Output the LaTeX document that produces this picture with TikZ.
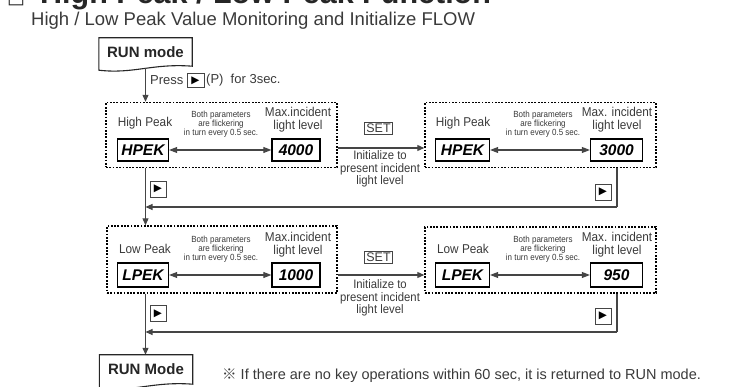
\documentclass[tikz,border=0pt]{standalone}
\usepackage{fontspec}
\setmainfont{Liberation Sans}
\newfontfamily\cjk{Noto Sans CJK KR}
\newfontfamily\symf{DejaVu Sans}
\newfontfamily\tinyf[FakeStretch=0.9]{Liberation Sans}
\newfontfamily\narrowf[FakeStretch=0.92]{Liberation Sans}
\usetikzlibrary{arrows.meta,calc}
\definecolor{txt}{HTML}{3A3A3A}
\definecolor{ln}{HTML}{454545}
\tikzset{
  lbl/.style={inner sep=0pt, text=txt, align=center, font=\narrowf\fontsize{12.8}{13}\selectfont},
  tinytxt/.style={inner sep=0pt, text=txt, align=center, font=\tinyf\fontsize{8.9}{6.3}\selectfont},
  disp/.style={draw=black, line width=1.3pt, inner sep=0pt, minimum width=51pt, minimum height=22pt,
    font=\bfseries\itshape\fontsize{15.5}{16}\selectfont},
  dotbox/.style={draw=black, line width=1.4pt, dash pattern=on 1.8pt off 1.5pt, inner sep=0pt},
  keybox/.style={draw=ln, line width=0.9pt, inner sep=0pt, minimum width=16pt, minimum height=16pt,
    font=\symf\fontsize{10.5}{10.5}\selectfont},
  setbox/.style={draw=ln, line width=0.8pt, inner sep=1.5pt, text=txt, font=\fontsize{12.5}{13}\selectfont},
  runbox/.style={inner sep=0pt, minimum width=93pt, font=\bfseries\fontsize{15}{15}\selectfont, text=black!85},
  runshape/.style={draw=black!85, line width=1.1pt, fill=white},
  arr/.style={draw=ln, line width=1.05pt, -{Triangle[length=7pt,width=6pt]}},
  plain/.style={draw=ln, line width=1.05pt},
  dbl/.style={draw=ln, line width=1.05pt, {Triangle[length=8pt,width=6pt]}-{Triangle[length=8pt,width=6pt]}},
}
\begin{document}
\begin{tikzpicture}[x=1pt,y=-1pt]
\useasboundingbox (0,0) rectangle (742,387);
\clip (0,0) rectangle (742,387);

% title and subtitle
\node[anchor=base west, inner sep=0pt, font=\symf\fontsize{19}{19}\selectfont, text=black!85] (tsq) at (7,4) {□};
\node[anchor=base west, inner sep=0pt, font=\bfseries\fontsize{30.5}{31}\selectfont, text=black!85] (title) at (40,4) {High Peak / Low Peak Function};
\node[anchor=base west, inner sep=0pt, text=txt, font=\fontsize{18.5}{18.5}\selectfont] (sub) at (31,26) {High / Low Peak Value Monitoring and Initialize FLOW};

% top RUN mode
\node[runbox, minimum height=32pt] (run1) at (145.5,54) {};
\path[runshape] (run1.north west) -- (run1.north east) -- ($(run1.south east)+(0,-4)$)
  .. controls ($(run1.south east)+(-40,-7)$) and ($(run1.south west)+(35,4)$) .. (run1.south west) -- cycle;
\node[runbox] (run1t) at (145.5,52) {RUN mode};

% Press label
\node[lbl, anchor=west, font=\fontsize{13}{13}\selectfont] (press) at (150,80) {Press};
\node[keybox, minimum width=17pt, minimum height=14pt] (pkey) at (195.5,80.5) {▶};
\node[lbl, anchor=west, font=\fontsize{13}{13}\selectfont] (pfor) at (206,80) {(P)\ \ for 3sec.};

% dotted boxes
\node[dotbox, minimum width=231pt, minimum height=65pt] (b1) at (221.5,135) {};
\node[dotbox, minimum width=231pt, minimum height=65pt] (b2) at (540.5,135) {};
\node[dotbox, minimum width=230pt, minimum height=67pt] (b3) at (222,259.5) {};
\node[dotbox, minimum width=231pt, minimum height=66pt] (b4) at (540.5,260) {};

% ---- box 1
\node[lbl] (hp1) at (145,123) {High Peak};
\node[disp] (d1) at (143,150) {HPEK};
\node[disp, minimum width=48pt] (v1) at (296,150) {4000};
\node[tinytxt] (t1) at (221,124) {Both parameters\\are flickering\\in turn every 0.5 sec.};
\node[lbl] (m1) at (298,119.5) {Max.incident\\light level};
\draw[dbl] (d1) -- (v1);
% ---- box 2
\node[lbl] (hp2) at (463,123) {High Peak};
\node[disp, minimum width=54pt] (d2) at (462.5,150) {HPEK};
\node[disp, minimum width=52pt] (v2) at (616.5,150) {3000};
\node[tinytxt] (t2) at (543,124) {Both parameters\\are flickering\\in turn every 0.5 sec.};
\node[lbl] (m2) at (617,119.5) {Max. incident\\light level};
\draw[dbl] (d2) -- (v2);
% ---- box 3
\node[lbl] (lp3) at (145,249) {Low Peak};
\node[disp, minimum height=24pt] (d3) at (143,275) {LPEK};
\node[disp, minimum width=48pt, minimum height=24pt] (v3) at (296,275) {1000};
\node[tinytxt] (t3) at (221,249) {Both parameters\\are flickering\\in turn every 0.5 sec.};
\node[lbl] (m3) at (298,245) {Max.incident\\light level};
\draw[dbl] (d3) -- (v3);
% ---- box 4
\node[lbl] (lp4) at (463,249) {Low Peak};
\node[disp, minimum width=54pt, minimum height=24pt] (d4) at (462.5,275) {LPEK};
\node[disp, minimum width=52pt, minimum height=24pt] (v4) at (616.5,275) {950};
\node[tinytxt] (t4) at (543,249) {Both parameters\\are flickering\\in turn every 0.5 sec.};
\node[lbl] (m4) at (617,245) {Max. incident\\light level};
\draw[dbl] (d4) -- (v4);

% SET transitions
\node[setbox] (s1) at (378.5,128) {SET};
\node[lbl, font=\narrowf\fontsize{12.3}{12.8}\selectfont] (i1) at (380,169) {Initialize to\\present incident\\light level};
\draw[arr] ($(b1.east)+(0,13)$) -- ($(b2.west)+(0,13)$);
\node[setbox] (s2) at (378.5,257) {SET};
\node[lbl, font=\narrowf\fontsize{12.3}{12.8}\selectfont] (i2) at (380,298) {Initialize to\\present incident\\light level};
\draw[arr] ($(b3.east)+(0,15.5)$) -- ($(b4.west)+(0,15)$);

% vertical flow
\draw[arr] ($(run1.south)+(0,-2)$) -- (b1.north -| run1);
\draw[arr] (b1.south -| run1) -- (b3.north -| run1);
\node[keybox] (k1) at (158,189) {▶};
\coordinate (r1) at (617,207);
\draw[plain] (b2.south -| r1) -- (r1);
\draw[arr] (r1) -- (r1 -| run1);
\node[keybox] (k2) at (603,192) {▶};

% bottom RUN Mode
\node[runbox, minimum height=33pt] (run2) at (146,371.5) {};
\draw[arr] (b3.south -| run1) -- (run2.north -| run1);
\node[keybox] (k3) at (158,313.5) {▶};
\coordinate (r2) at (617,332);
\draw[plain] (b4.south -| r2) -- (r2);
\draw[arr] (r2) -- (r2 -| run1);
\node[keybox] (k4) at (603,316) {▶};
\path[runshape] (run2.north west) -- (run2.north east) -- ($(run2.south east)+(0,-4)$)
  .. controls ($(run2.south east)+(-40,-7)$) and ($(run2.south west)+(35,4)$) .. (run2.south west) -- cycle;
\node[runbox] (run2t) at (146,369) {RUN Mode};

% note
\node[lbl, anchor=west, font=\fontsize{14.5}{15}\selectfont] (note) at (222,376) {{\cjk ※} If there are no key operations within 60 sec, it is returned to RUN mode.};
\end{tikzpicture}
\end{document}
